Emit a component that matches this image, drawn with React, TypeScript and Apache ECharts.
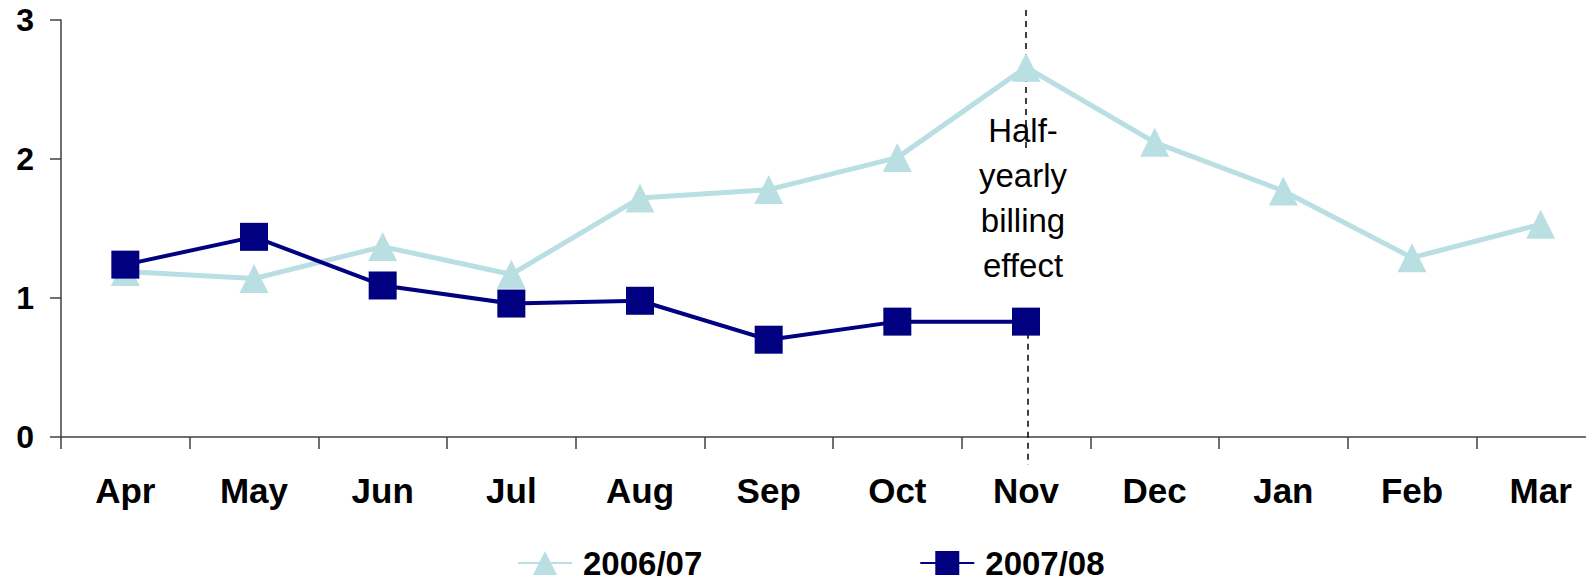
import React, { useEffect, useRef } from "react";
import * as echarts from "echarts";

const months = ["Apr", "May", "Jun", "Jul", "Aug", "Sep", "Oct", "Nov", "Dec", "Jan", "Feb", "Mar"];
const fy0607 = [1.19, 1.14, 1.37, 1.17, 1.72, 1.78, 2.01, 2.66, 2.12, 1.77, 1.29, 1.53];
const fy0708 = [1.24, 1.44, 1.09, 0.96, 0.98, 0.7, 0.83, 0.83];
const seriesNames = ["2006/07", "2007/08"];
const yMin = 0;
const yMax = 3;
const yInterval = 1;
const annotationText = "Half-\nyearly\nbilling\neffect";
const annotationMonth = "Nov";

const FONT = '"Liberation Sans", Arial, sans-serif';
const LIGHT = "#BADFE3";
const DARK = "#000080";

export default function App() {
  const ref = useRef<HTMLDivElement>(null);

  useEffect(() => {
    document.body.style.margin = "0";
    if (!ref.current) return;
    const chart = echarts.init(ref.current, undefined, { renderer: "svg" });
    chart.setOption({
      animation: false,
      backgroundColor: "#ffffff",
      textStyle: { fontFamily: FONT },
      grid: { left: 61, top: 20, width: 1544, height: 417, containLabel: false },
      legend: {
        left: 512,
        top: 541,
        itemWidth: 54,
        itemHeight: 30,
        itemGap: 217,
        data: seriesNames,
        textStyle: {
          fontFamily: FONT,
          fontSize: 33,
          lineHeight: 34,
          fontWeight: "bold",
          color: "#000",
          padding: [0, 0, 0, 6],
        },
      },
      xAxis: {
        type: "category",
        data: months,
        boundaryGap: true,
        axisLine: { show: true, lineStyle: { color: "#404040", width: 1.5 } },
        axisTick: { show: true, length: 12, interval: 0, lineStyle: { color: "#404040", width: 1.5 } },
        axisLabel: {
          interval: 0,
          margin: 36,
          fontFamily: FONT,
          fontSize: 35,
          fontWeight: "bold",
          color: "#000",
        },
        splitLine: { show: false },
      },
      yAxis: {
        type: "value",
        min: yMin,
        max: yMax,
        interval: yInterval,
        axisLine: { show: true, lineStyle: { color: "#404040", width: 1.5 } },
        axisTick: { show: true, length: 11, lineStyle: { color: "#404040", width: 1.5 } },
        axisLabel: {
          margin: 27,
          fontFamily: FONT,
          fontSize: 32,
          fontWeight: "bold",
          color: "#000",
        },
        splitLine: { show: false },
      },
      series: [
        {
          name: seriesNames[0],
          type: "line",
          data: fy0607,
          symbol: "triangle",
          symbolSize: [29, 29],
          itemStyle: { color: LIGHT },
          lineStyle: { color: LIGHT, width: 5 },
          z: 2,
        },
        {
          name: seriesNames[1],
          type: "line",
          data: fy0708,
          symbol: "rect",
          symbolSize: 28,
          itemStyle: { color: DARK },
          lineStyle: { color: DARK, width: 4 },
          z: 3,
        },
      ],
    });

    const idx = months.indexOf(annotationMonth);
    const x = chart.convertToPixel({ xAxisIndex: 0 }, annotationMonth) as number;
    const yPoint = chart.convertToPixel({ yAxisIndex: 0 }, fy0708[idx]) as number;
    chart.setOption({
      graphic: [
        {
          type: "line",
          z: 1,
          shape: { x1: x, y1: 10, x2: x, y2: 153 },
          style: { stroke: "#000", lineWidth: 1.5, lineDash: [6, 5] },
        },
        {
          type: "line",
          z: 1,
          shape: { x1: x + 2, y1: yPoint, x2: x + 2, y2: 465 },
          style: { stroke: "#000", lineWidth: 1.5, lineDash: [6, 5] },
        },
        {
          type: "text",
          z: 10,
          x: x - 3,
          y: 108,
          style: {
            text: annotationText,
            fill: "#000",
            fontFamily: FONT,
            fontSize: 33,
            align: "center",
            verticalAlign: "top",
            lineHeight: 45,
          },
        },
      ],
    });

    return () => chart.dispose();
  }, []);

  return (
    <div style={{ width: 1586, height: 581, overflow: "hidden", position: "relative" }}>
      <div ref={ref} style={{ width: 1610, height: 581 }} />
    </div>
  );
}
